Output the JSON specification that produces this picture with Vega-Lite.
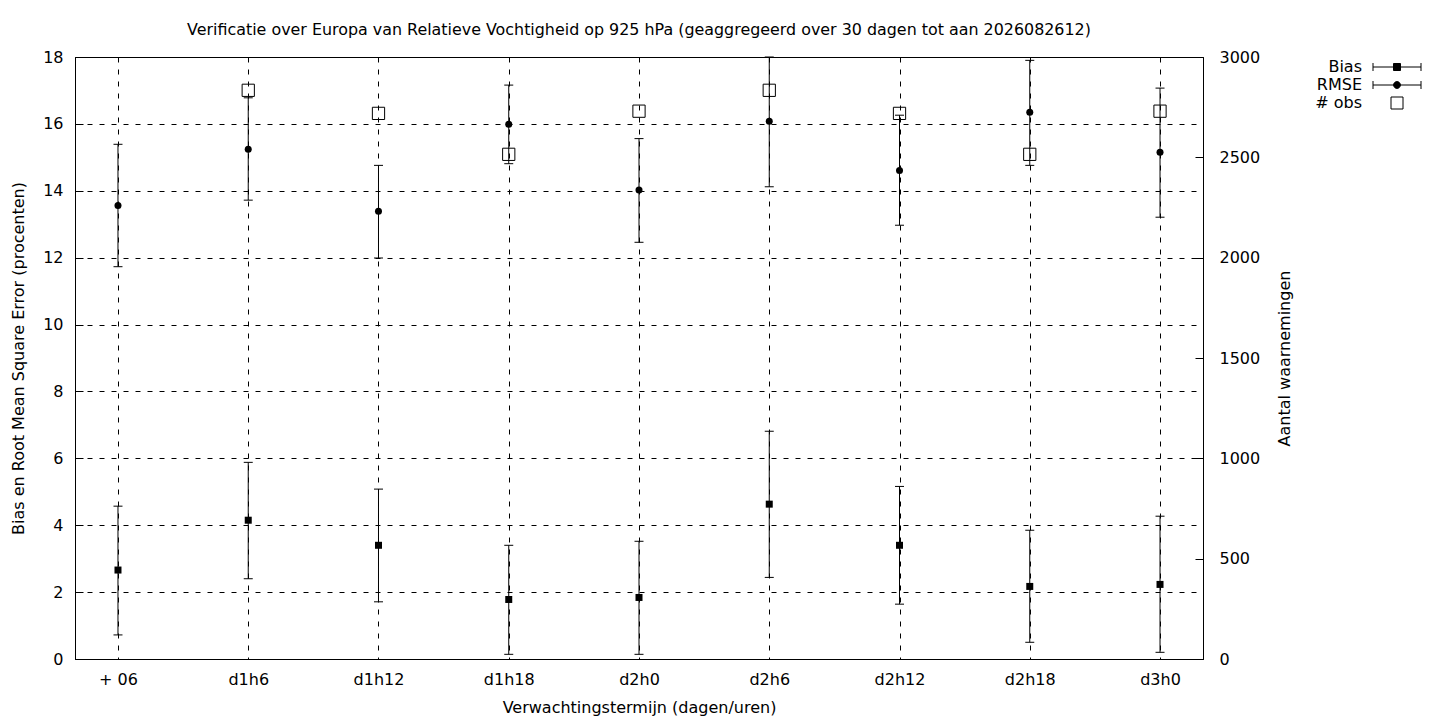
{
  "$schema": "https://vega.github.io/schema/vega-lite/v6.json",
  "width": 1128,
  "height": 602,
  "autosize": {"type": "none"},
  "padding": {"left": 75, "top": 57, "right": 237, "bottom": 61},
  "background": "white",
  "title": {
    "text": "Verificatie over Europa van Relatieve Vochtigheid op 925 hPa (geaggregeerd over 30 dagen tot aan 2026082612)",
    "fontSize": 15.9,
    "fontWeight": "normal",
    "font": "DejaVu Sans",
    "color": "black",
    "anchor": "middle",
    "offset": 11
  },
  "config": {
    "font": "DejaVu Sans",
    "view": {"stroke": "black", "strokeWidth": 1},
    "axis": {
      "labelFont": "DejaVu Sans",
      "titleFont": "DejaVu Sans",
      "labelFontSize": 16,
      "titleFontSize": 16,
      "titleFontWeight": "normal",
      "labelColor": "black",
      "titleColor": "black",
      "domainColor": "black",
      "tickColor": "black",
      "gridColor": "black",
      "gridDash": [5, 7],
      "gridWidth": 1,
      "gridOpacity": 1
    }
  },
  "datasets": {
    "stats": [
      {"termijn": "+ 06", "series": "Bias", "val": 2.66, "lo": 0.72, "hi": 4.57},
      {"termijn": "d1h6", "series": "Bias", "val": 4.15, "lo": 2.40, "hi": 5.88},
      {"termijn": "d1h12", "series": "Bias", "val": 3.40, "lo": 1.71, "hi": 5.08},
      {"termijn": "d1h18", "series": "Bias", "val": 1.78, "lo": 0.14, "hi": 3.40},
      {"termijn": "d2h0", "series": "Bias", "val": 1.84, "lo": 0.14, "hi": 3.52},
      {"termijn": "d2h6", "series": "Bias", "val": 4.63, "lo": 2.44, "hi": 6.81},
      {"termijn": "d2h12", "series": "Bias", "val": 3.40, "lo": 1.64, "hi": 5.16},
      {"termijn": "d2h18", "series": "Bias", "val": 2.17, "lo": 0.50, "hi": 3.85},
      {"termijn": "d3h0", "series": "Bias", "val": 2.23, "lo": 0.20, "hi": 4.27},
      {"termijn": "+ 06", "series": "RMSE", "val": 13.56, "lo": 11.73, "hi": 15.39},
      {"termijn": "d1h6", "series": "RMSE", "val": 15.24, "lo": 13.72, "hi": 16.78},
      {"termijn": "d1h12", "series": "RMSE", "val": 13.39, "lo": 11.99, "hi": 14.76},
      {"termijn": "d1h18", "series": "RMSE", "val": 15.99, "lo": 14.81, "hi": 17.16},
      {"termijn": "d2h0", "series": "RMSE", "val": 14.02, "lo": 12.46, "hi": 15.56},
      {"termijn": "d2h6", "series": "RMSE", "val": 16.08, "lo": 14.12, "hi": 18.0},
      {"termijn": "d2h12", "series": "RMSE", "val": 14.61, "lo": 12.97, "hi": 16.26},
      {"termijn": "d2h18", "series": "RMSE", "val": 16.35, "lo": 14.76, "hi": 17.90},
      {"termijn": "d3h0", "series": "RMSE", "val": 15.15, "lo": 13.21, "hi": 17.07}
    ],
    "obs": [
      {"termijn": "d1h6", "count": 2834},
      {"termijn": "d1h12", "count": 2719},
      {"termijn": "d1h18", "count": 2515},
      {"termijn": "d2h0", "count": 2730},
      {"termijn": "d2h6", "count": 2834},
      {"termijn": "d2h12", "count": 2719},
      {"termijn": "d2h18", "count": 2515},
      {"termijn": "d3h0", "count": 2730}
    ],
    "legend": [
      {"series": "Bias"},
      {"series": "RMSE"},
      {"series": "# obs"}
    ]
  },
  "encoding": {
    "x": {
      "field": "termijn",
      "type": "ordinal",
      "sort": ["+ 06", "d1h6", "d1h12", "d1h18", "d2h0", "d2h6", "d2h12", "d2h18", "d3h0"],
      "scale": {"type": "point", "padding": 0.33, "domain": ["+ 06", "d1h6", "d1h12", "d1h18", "d2h0", "d2h6", "d2h12", "d2h18", "d3h0"]},
      "axis": {
        "title": "Verwachtingstermijn (dagen/uren)",
        "labelAngle": 0,
        "grid": true,
        "ticks": false,
        "labelPadding": 12,
        "titlePadding": 12
      }
    }
  },
  "layer": [
    {
      "data": {"name": "stats"},
      "encoding": {
        "y": {
          "field": "lo",
          "type": "quantitative",
          "scale": {"domain": [0, 18], "nice": false, "zero": false},
          "axis": {
            "title": "Bias en Root Mean Square Error (procenten)",
            "values": [0, 2, 4, 6, 8, 10, 12, 14, 16, 18],
            "grid": true,
            "tickSize": -8,
            "labelPadding": 20,
            "titlePadding": 16
          }
        }
      },
      "layer": [
        {
          "mark": {"type": "rule", "color": "black", "strokeWidth": 1},
          "encoding": {"y2": {"field": "hi"}}
        },
        {
          "mark": {"type": "tick", "orient": "horizontal", "size": 9, "thickness": 1, "color": "black", "opacity": 1}
        },
        {
          "mark": {"type": "tick", "orient": "horizontal", "size": 9, "thickness": 1, "color": "black", "opacity": 1},
          "encoding": {"y": {"field": "hi", "type": "quantitative"}}
        },
        {
          "transform": [{"filter": "datum.series === 'Bias'"}],
          "mark": {"type": "point", "shape": "square", "filled": true, "color": "black", "size": 49, "opacity": 1},
          "encoding": {"y": {"field": "val", "type": "quantitative"}}
        },
        {
          "transform": [{"filter": "datum.series === 'RMSE'"}],
          "mark": {"type": "point", "shape": "circle", "filled": true, "color": "black", "size": 49, "opacity": 1},
          "encoding": {"y": {"field": "val", "type": "quantitative"}}
        }
      ]
    },
    {
      "data": {"name": "obs"},
      "mark": {"type": "point", "shape": "square", "filled": false, "color": "black", "size": 150, "strokeWidth": 1, "opacity": 1},
      "encoding": {
        "y": {
          "field": "count",
          "type": "quantitative",
          "scale": {"domain": [0, 3000], "nice": false},
          "axis": {
            "orient": "right",
            "title": "Aantal waarnemingen",
            "titleAngle": 270,
            "format": "d",
            "values": [0, 500, 1000, 1500, 2000, 2500, 3000],
            "grid": false,
            "tickSize": -8,
            "labelPadding": 24,
            "titlePadding": 33
          }
        }
      }
    },
    {
      "data": {"name": "legend"},
      "mark": {"type": "point", "filled": true, "opacity": 0, "strokeWidth": 1},
      "encoding": {
        "shape": {
          "field": "series",
          "type": "nominal",
          "scale": {
            "domain": ["Bias", "RMSE", "# obs"],
            "range": [
              "M-6,0H6M-6,-1V1M6,-1V1M-0.875,-0.875H0.875V0.875H-0.875Z",
              "M-6,0H6M-6,-1V1M6,-1V1M0.85,0A0.85,0.85,0,1,1,-0.85,0A0.85,0.85,0,1,1,0.85,0Z",
              "M-1.5,-1.5H1.5V1.5H-1.5Z"
            ]
          },
          "legend": {
            "title": null,
            "orient": "none",
            "legendX": 1314,
            "legendY": 2,
            "labelFont": "DejaVu Sans",
            "labelFontSize": 16,
            "labelColor": "black",
            "labelAlign": "right",
            "labelOffset": -43,
            "symbolSize": 64,
            "symbolOpacity": 1,
            "symbolStrokeColor": "black",
            "symbolStrokeWidth": 1,
            "rowPadding": 2
          }
        },
        "fill": {
          "field": "series",
          "type": "nominal",
          "scale": {"domain": ["Bias", "RMSE", "# obs"], "range": ["black", "black", "transparent"]},
          "legend": {
            "title": null,
            "orient": "none",
            "legendX": 1314,
            "legendY": 2,
            "labelFont": "DejaVu Sans",
            "labelFontSize": 16,
            "labelColor": "black",
            "labelAlign": "right",
            "labelOffset": -43,
            "symbolSize": 64,
            "symbolOpacity": 1,
            "symbolStrokeColor": "black",
            "symbolStrokeWidth": 1,
            "rowPadding": 2
          }
        },
        "stroke": {
          "field": "series",
          "type": "nominal",
          "scale": {"domain": ["Bias", "RMSE", "# obs"], "range": ["black", "black", "black"]},
          "legend": {
            "title": null,
            "orient": "none",
            "legendX": 1314,
            "legendY": 2,
            "labelFont": "DejaVu Sans",
            "labelFontSize": 16,
            "labelColor": "black",
            "labelAlign": "right",
            "labelOffset": -43,
            "symbolSize": 64,
            "symbolOpacity": 1,
            "symbolStrokeColor": "black",
            "symbolStrokeWidth": 1,
            "rowPadding": 2
          }
        }
      }
    }
  ],
  "resolve": {"scale": {"y": "independent"}}
}
